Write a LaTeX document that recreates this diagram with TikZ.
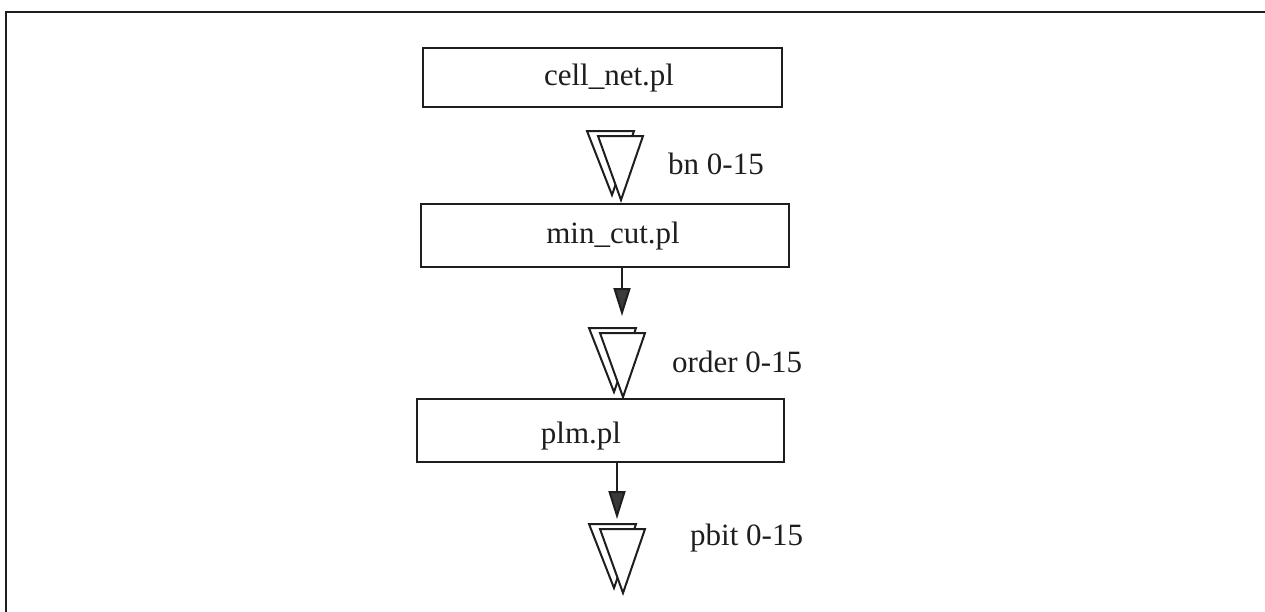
\documentclass[tikz,border=0pt]{standalone}
\usepackage{fontspec}
\setmainfont{Liberation Serif}
\usetikzlibrary{arrows.meta}
\definecolor{ink}{HTML}{1E1E1E}
\definecolor{headfill}{HTML}{3A3A3A}
\tikzset{
  stage/.style={draw=ink, line width=2pt, fill=white, inner sep=0pt},
  txt/.style={inner sep=0pt, anchor=base, font=\fontsize{31}{36}\selectfont, text=ink},
  lbl/.style={inner sep=0pt, anchor=base west, font=\fontsize{31}{36}\selectfont, text=ink},
  feed/.style={draw=ink, line width=2pt,
    -{Triangle[length=28pt, width=17pt, fill=headfill]}},
  % stacked bus symbol, origin at the tip of the front triangle
  bus/.pic={
    \draw[draw=ink, line width=2pt, line join=miter, fill=white]
      (-34,-69) -- (13,-69) -- (-9,-5) -- cycle;
    \draw[draw=ink, line width=2pt, line join=miter, fill=white]
      (-23,-64) -- (22,-64) -- (0,0) -- cycle;
    \coordinate (-top) at (-11,-69);
  }
}
\begin{document}
\begin{tikzpicture}[x=1pt, y=-1pt]
  \useasboundingbox (0,0) rectangle (1265,611);
  % outer frame (open towards right and bottom)
  \draw[ink, line width=2.5pt] (6,620) -- (6,12) -- (1275,12);

  % program stages
  \node[stage, minimum width=359pt, minimum height=59pt] (cn) at (602.5,77.5) {};
  \node[txt] (cnt) at (609,85) {cell\_net.pl};

  \node[stage, minimum width=368pt, minimum height=63pt] (mc) at (605,235.5) {};
  \node[txt] (mct) at (613,243) {min\_cut.pl};

  \node[stage, minimum width=367pt, minimum height=63pt] (pl) at (600.5,430.5) {};
  \node[txt] (plt) at (581,443) {plm.pl};

  % bus symbols
  \pic (b1) at (621,200) {bus};
  \pic (b2) at (623,397) {bus};
  \pic (b3) at (623,593) {bus};

  % bus labels
  \node[lbl] (l1) at (668,174) {bn 0-15};
  \node[lbl] (l2) at (672,372) {order 0-15};
  \node[lbl] (l3) at (690,545) {pbit 0-15};

  % data flow into the next bus
  \coordinate (a2) at (622,316);
  \coordinate (a3) at (617,519);
  \draw[feed] (mc.south -| a2) -- (a2);
  \draw[feed] (pl.south -| a3) -- (a3);
\end{tikzpicture}
\end{document}
